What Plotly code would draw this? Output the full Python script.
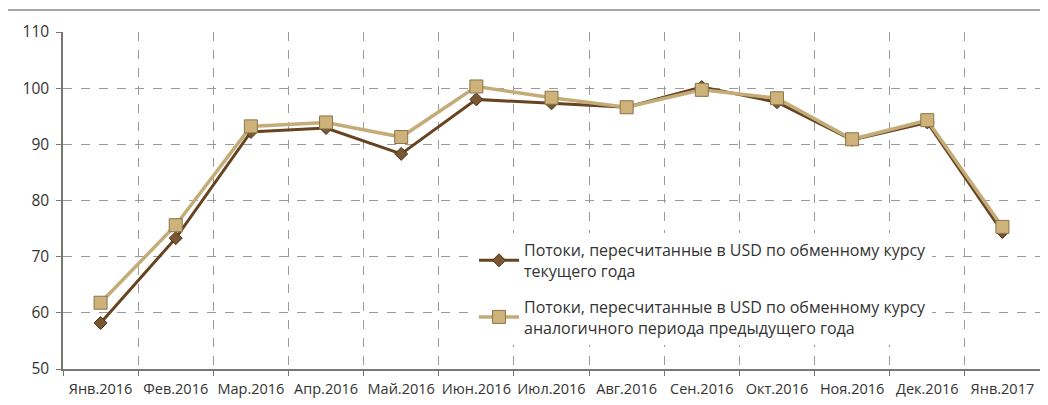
import plotly.graph_objects as go

categories = ["Янв.2016", "Фев.2016", "Мар.2016", "Апр.2016", "Май.2016", "Июн.2016",
              "Июл.2016", "Авг.2016", "Сен.2016", "Окт.2016", "Ноя.2016", "Дек.2016", "Янв.2017"]
current_rate = [58.2, 73.3, 92.2, 92.9, 88.3, 98.0, 97.3, 96.6, 100.2, 97.5, 90.8, 93.9, 74.4]
prev_rate = [61.8, 75.6, 93.2, 93.9, 91.3, 100.3, 98.3, 96.6, 99.7, 98.2, 90.9, 94.3, 75.3]
series_names = [
    "Потоки, пересчитанные в USD по обменному курсу<br>текущего года",
    "Потоки, пересчитанные в USD по обменному курсу<br>аналогичного периода предыдущего года",
]
y_ticks = [50, 60, 70, 80, 90, 100, 110]

# page has an 8px body margin; figure sized so plot lands where the reference has it
OFF = 8
W, H = 1048 - OFF, 405 - OFF
ML, MR, MT, MB = 63 - OFF, 8, 32 - OFF, 36
pw, ph = W - ML - MR, H - MT - MB

fig = go.Figure()
fig.add_trace(go.Scatter(
    x=categories, y=current_rate, name=series_names[0], mode="lines+markers",
    legendgroup="a",
    line=dict(color="#664421", width=3),
    marker=dict(symbol="diamond", size=10, color="#7a5733", line=dict(color="#4e3418", width=1)),
))
fig.add_trace(go.Scatter(
    x=categories, y=prev_rate, name=series_names[1], mode="lines+markers",
    legendgroup="b",
    line=dict(color="#c4ac78", width=3.5),
    marker=dict(symbol="square", size=13, color="#cdb27a", line=dict(color="#8c744a", width=1)),
))

# outer frame
fig.add_shape(type="rect", xref="paper", yref="paper",
              x0=(7 - OFF - ML) / pw, x1=(W + 5 - ML) / pw,
              y0=-(MB + 10) / ph, y1=(H - (10 - OFF) - MB) / ph,
              line=dict(color="#8a8a8a", width=1.5), layer="below")

fig.update_layout(
    width=W, height=H,
    margin=dict(l=ML, r=MR, t=MT, b=MB, autoexpand=False),
    paper_bgcolor="white", plot_bgcolor="white",
    font=dict(family="Open Sans, Noto Sans, sans-serif", color="#333333", size=15),
    showlegend=True,
    legend=dict(
        x=(474 - 63) / pw, y=(369 - 233) / ph, xanchor="left", yanchor="top",
        bgcolor="white", font=dict(size=16, color="#333333"),
        itemwidth=40, tracegroupgap=12, traceorder="grouped",
    ),
    xaxis=dict(
        type="category", tickson="boundaries", ticks="outside", ticklen=5,
        tickcolor="#777777", showline=True, linecolor="#777777", linewidth=1.5,
        showgrid=True, gridcolor="#9a9a9a", griddash="dash", gridwidth=1,
        tickfont=dict(size=14.5), tickangle=0, automargin=False,
        ticklabelstandoff=6,
        range=[-0.5, 12.5], fixedrange=True,
    ),
    yaxis=dict(
        range=[50, 110], tickvals=y_ticks, ticks="outside", ticklen=5,
        tickcolor="#777777", showline=True, linecolor="#777777", linewidth=1.5,
        showgrid=True, gridcolor="#9a9a9a", griddash="dash", gridwidth=1,
        zeroline=False, tickfont=dict(size=15.5), ticklabelstandoff=4,
        automargin=False,
    ),
)

fig.write_html("out.html")
